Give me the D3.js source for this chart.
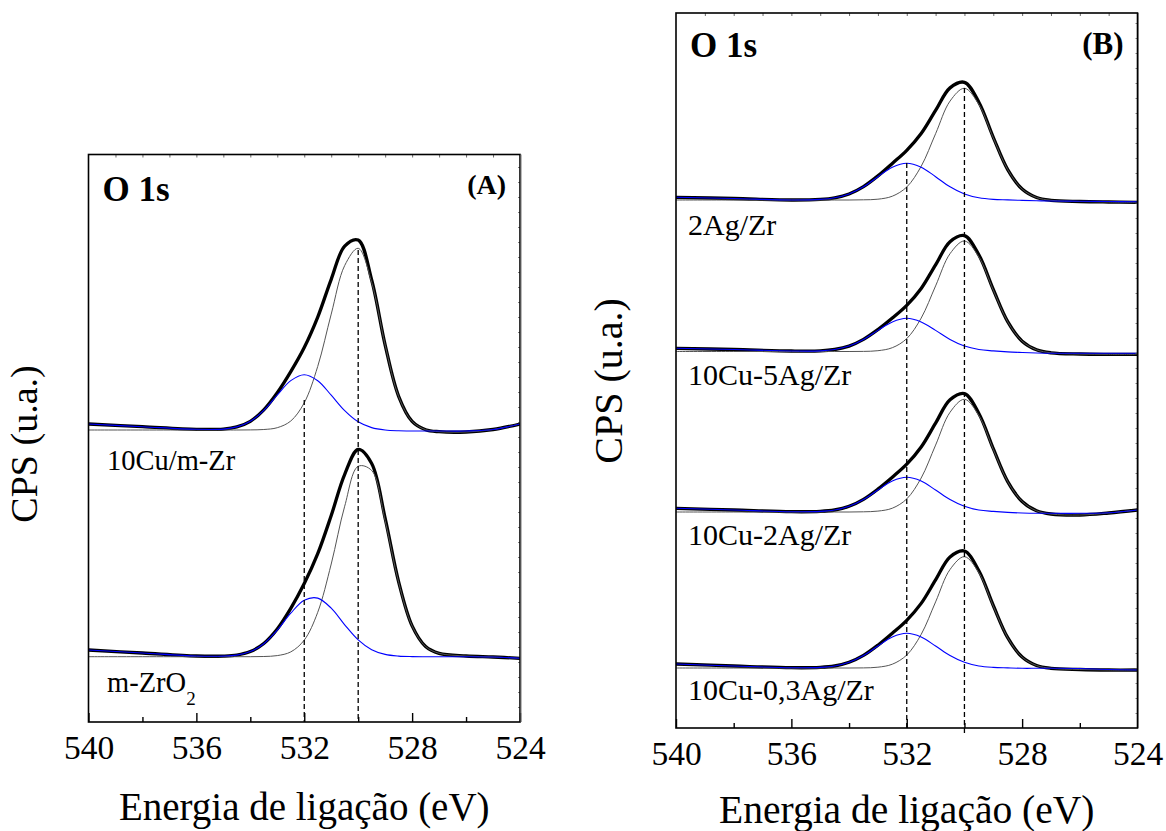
<!DOCTYPE html>
<html>
<head>
<meta charset="utf-8">
<script src="https://cdn.jsdelivr.net/npm/d3@7"></script>
<style>
  body { margin: 0; background: #fff; }
  svg { display: block; }
  text { font-family: "Liberation Serif", "Times New Roman", serif; fill: #000; }
</style>
</head>
<body>
<svg id="chart" width="1166" height="831"></svg>
<script>
// ---------- DATA (binding energy in eV, intensity in arbitrary units) ----------
const energy = [540, 538, 536, 535, 534.5, 534, 533.5, 533, 532.5, 532, 531.5, 531, 530.5, 530, 529.5, 529, 528.5, 528, 527.5, 527, 526, 525, 524];

const majorTicks = [540, 536, 532, 528, 524];
const minorTicks = [538, 534, 530, 526];
const refEnergies = [532, 530];

// Panel A : 10Cu/m-Zr (top) and m-ZrO2 (bottom)
const aSampleNames = ["10Cu/m-Zr", "m-ZrO"];
const a1Envelope = [298, 295.3, 292.7, 292.9, 295.1, 300.7, 312.2, 329.3, 350.4, 374.5, 404.9, 442.7, 475.9, 481.9, 442.0, 376.9, 325.7, 300.6, 292.3, 290.3, 290, 292.5, 298];
const a1Main     = [292, 292, 292, 292, 292, 292.1, 292.5, 294.3, 301.0, 319.2, 355.6, 407.9, 456.5, 473.7, 439.6, 376.9, 325.5, 300.6, 292.3, 290.3, 290, 292.5, 298];
const a1Blue     = [298, 295.3, 292.7, 292.9, 295.1, 300.7, 311.7, 327.0, 341.4, 347.3, 341.3, 326.8, 311.4, 300.2, 294.4, 292.0, 291.2, 291, 291, 291, 291, 292.5, 298];
const a2Envelope = [72, 69, 66, 65.9, 66.9, 70.4, 78.5, 93.0, 113.6, 138.4, 168.3, 206.5, 247.7, 272.5, 258.5, 203.7, 140.2, 96.1, 75.5, 68.7, 66, 65, 63.7];
const a2Main     = [65.3, 65.3, 65.3, 65.3, 65.3, 65.3, 65.5, 66.4, 70.1, 81.9, 109.7, 158.0, 215.8, 255.7, 251.5, 201.4, 139.6, 96.0, 75.5, 68.7, 66, 65, 63.7];
const a2Blue     = [72, 69, 66, 65.9, 66.9, 70.4, 78.3, 91.9, 108.8, 121.8, 123.9, 113.8, 97.2, 82.1, 72.3, 67.6, 65.9, 65.4, 65.3, 65.3, 65.3, 65, 63.7];
const aRefTops = [322, 472];

// Panel B : 2Ag/Zr, 10Cu-5Ag/Zr, 10Cu-2Ag/Zr, 10Cu-0,3Ag/Zr
const bSampleNames = ["2Ag/Zr", "10Cu-5Ag/Zr", "10Cu-2Ag/Zr", "10Cu-0,3Ag/Zr"];
const b1Envelope = [530.7, 529.5, 528, 528.6, 530.2, 534.0, 541.4, 552.1, 564.6, 577.7, 594.5, 617.6, 640.1, 645.7, 625.8, 590.7, 558.4, 538.9, 530.5, 527.7, 526.5, 526, 525.7];
const b1Main     = [528, 528, 528, 528, 528, 528, 528.2, 528.8, 531.8, 541.0, 561.7, 594.3, 626.9, 639.7, 623.6, 590.1, 558.3, 538.9, 530.5, 527.7, 526.5, 526, 525.7];
const b1Blue     = [530.7, 529.5, 528, 528.6, 530.2, 534.0, 541.2, 551.3, 560.8, 564.7, 560.8, 551.3, 541.2, 534.0, 530.2, 528.6, 528.1, 527.6, 527.2, 527, 526.8, 526.5, 526.2];
const b2Envelope = [379.7, 378.5, 377, 377.1, 378.5, 381.9, 388.6, 398.4, 409.9, 422.6, 439.5, 463.2, 486.3, 492.4, 473.1, 438.5, 406.3, 386.8, 378.2, 375.2, 374, 373.7, 373.7];
const b2Main     = [376.5, 376.5, 376.5, 376.5, 376.5, 376.5, 376.6, 377.3, 380.3, 389.4, 409.9, 442.1, 474.3, 487.0, 471.1, 437.9, 406.2, 386.8, 378.2, 375.2, 374, 373.7, 373.7];
const b2Blue     = [379.7, 378.5, 377, 377.1, 378.5, 381.9, 388.5, 397.6, 406.1, 409.7, 406.1, 397.6, 388.5, 381.9, 378.5, 377.1, 376.1, 375.5, 375, 374.7, 374.7, 374.7, 374.7];
const b3Envelope = [219.7, 218, 216.3, 216.6, 218.0, 221.7, 228.7, 238.9, 250.8, 263.8, 281.0, 304.9, 328.2, 334.4, 314.5, 279.3, 246.4, 226.5, 217.2, 214.0, 213, 215, 218];
const b3Main     = [216, 216, 216, 216, 216, 216, 216.2, 216.9, 219.8, 229.1, 250.0, 282.9, 315.7, 328.7, 312.5, 278.7, 246.3, 226.5, 217.2, 214.0, 213, 215, 218];
const b3Blue     = [219.7, 218, 216.3, 216.6, 218.0, 221.7, 228.5, 238.0, 247.0, 250.7, 247.0, 238.0, 228.5, 221.7, 218.0, 216.6, 215.6, 215, 214.7, 214.7, 214.7, 215.2, 218];
const b4Envelope = [64, 62, 60.3, 60.6, 62.0, 65.7, 72.6, 82.8, 94.8, 107.7, 124.6, 148.1, 171.0, 177.0, 157.3, 122.5, 90.3, 70.9, 62.5, 59.7, 58.5, 58, 58];
const b4Main     = [60, 60, 60, 60, 60, 60, 60.1, 60.8, 63.8, 73.0, 93.6, 126.1, 158.5, 171.3, 155.3, 121.9, 90.2, 70.9, 62.5, 59.7, 58.5, 58, 58];
const b4Blue     = [64, 62, 60.3, 60.6, 62.0, 65.7, 72.5, 82.0, 91.0, 94.7, 91.0, 82.0, 72.5, 65.7, 62.0, 60.6, 60.1, 59.7, 59.7, 59.7, 59.5, 58.5, 58];
const bRefTops = [565, 640];
const bRefBottoms = [0, -6];

// ---------- DRAWING ----------
const svg = d3.select("#chart");

function drawPanel(cfg) {
  const g = svg.append("g");
  const x = d3.scaleLinear().domain([540, 524]).range([cfg.left, cfg.right]);
  const y = d3.scaleLinear().domain(cfg.yDomain).range([cfg.bottom, cfg.top]);

  const clipId = "clip" + cfg.id;
  svg.append("clipPath").attr("id", clipId).append("rect")
    .attr("x", cfg.left).attr("y", cfg.top - 2)
    .attr("width", cfg.right - cfg.left).attr("height", cfg.bottom - cfg.top + 4);

  const line = d3.line()
    .x((d, i) => x(energy[i]))
    .y(d => y(d))
    .curve(d3.curveCatmullRom.alpha(0.5));

  const plot = g.append("g").attr("clip-path", `url(#${clipId})`);

  // dashed reference lines
  refEnergies.forEach((e, i) => {
    g.append("line")
      .attr("x1", x(e)).attr("x2", x(e))
      .attr("y1", y(cfg.refTops[i])).attr("y2", y(cfg.refBottoms[i]))
      .attr("stroke", "#000").attr("stroke-width", 1.3)
      .attr("stroke-dasharray", "5,3");
  });

  cfg.spectra.forEach(s => {
    plot.append("path").attr("d", line(s.env))
      .attr("fill", "none").attr("stroke", "#000").attr("stroke-width", 3.3)
      .attr("stroke-linejoin", "round");
    plot.append("path").attr("d", line(s.main))
      .attr("fill", "none").attr("stroke", "#555").attr("stroke-width", 1);
    plot.append("path").attr("d", line(s.blue))
      .attr("fill", "none").attr("stroke", "#0000ff").attr("stroke-width", 1.1);
  });

  // axes
  const bottom = g.append("g").attr("transform", `translate(0,${cfg.bottom})`)
    .call(d3.axisBottom(x).tickValues(majorTicks).tickFormat(d3.format("d"))
      .tickSizeInner(-9).tickSizeOuter(0).tickPadding(cfg.tickPad));
  bottom.select(".domain").remove();
  bottom.selectAll("line").attr("stroke", "#000").attr("stroke-width", 1.4);
  bottom.selectAll("text").attr("font-size", 33.5).attr("fill", "#000");

  const minor = g.append("g").attr("transform", `translate(0,${cfg.bottom})`)
    .call(d3.axisBottom(x).tickValues(minorTicks).tickFormat("").tickSizeInner(-5).tickSizeOuter(0));
  minor.select(".domain").remove();
  minor.selectAll("line").attr("stroke", "#000").attr("stroke-width", 1.4);

  const topAx = g.append("g").attr("transform", `translate(0,${cfg.top})`)
    .call(d3.axisTop(x).tickValues(d3.range(525, 540, 1)).tickFormat("").tickSizeInner(-3).tickSizeOuter(0));
  topAx.select(".domain").remove();
  topAx.selectAll("line").attr("stroke", "#444").attr("stroke-width", 0.8);

  const rightAx = g.append("g").attr("transform", `translate(${cfg.right},0)`)
    .call(d3.axisRight(y).tickValues(d3.range(cfg.yDomain[0] + 15, cfg.yDomain[1], 15)).tickFormat("").tickSizeInner(-2).tickSizeOuter(0));
  rightAx.select(".domain").remove();
  rightAx.selectAll("line").attr("stroke", "#666").attr("stroke-width", 0.8);

  // frame
  g.append("rect")
    .attr("x", cfg.left).attr("y", cfg.top)
    .attr("width", cfg.right - cfg.left).attr("height", cfg.bottom - cfg.top)
    .attr("fill", "none").attr("stroke", "#000").attr("stroke-width", 1.6);
  g.append("line")
    .attr("x1", cfg.right + 1).attr("x2", cfg.right + 1)
    .attr("y1", cfg.top).attr("y2", cfg.bottom)
    .attr("stroke", "#777").attr("stroke-width", 1);

  // titles
  g.append("text").attr("x", cfg.left + 14).attr("y", cfg.top + cfg.o1sDy)
    .attr("font-size", 35).attr("font-weight", "bold").text("O 1s");
  g.append("text").attr("x", cfg.right - 14).attr("y", cfg.top + cfg.tagDy)
    .attr("text-anchor", "end").attr("font-size", cfg.tagSize).attr("font-weight", "bold").text(cfg.tag);

  g.append("text")
    .attr("x", (cfg.left + cfg.right) / 2).attr("y", cfg.bottom + cfg.xTitleDy)
    .attr("text-anchor", "middle").attr("font-size", cfg.xTitleSize)
    .text("Energia de ligação (eV)");

  g.append("text")
    .attr("transform", `translate(${cfg.yTitleX},${cfg.yTitleY}) rotate(-90)`)
    .attr("text-anchor", "middle").attr("font-size", cfg.yTitleSize)
    .text("CPS (u.a.)");

  return { g, x, y };
}

// Panel A
const pA = drawPanel({
  id: "A", left: 88.5, right: 520, top: 154.5, bottom: 722,
  yDomain: [0, 567.5], tickPad: 13,
  refTops: aRefTops, refBottoms: [0, 0],
  spectra: [
    { env: a1Envelope, main: a1Main, blue: a1Blue },
    { env: a2Envelope, main: a2Main, blue: a2Blue }
  ],
  o1sDy: 46.5, tag: "(A)", tagDy: 39, tagSize: 28,
  xTitleDy: 98, xTitleSize: 39, yTitleX: 37, yTitleY: 444, yTitleSize: 38
});
pA.g.append("text").attr("x", 107).attr("y", 470).attr("font-size", 28.5).text(aSampleNames[0]);
const zrLabel = pA.g.append("text").attr("x", 107).attr("y", 691.7).attr("font-size", 28.5).text(aSampleNames[1]);
zrLabel.append("tspan").attr("font-size", 19).attr("dy", 13).text("2");

// Panel B
const pB = drawPanel({
  id: "B", left: 676, right: 1137.5, top: 13, bottom: 728,
  yDomain: [0, 715], tickPad: 13.5,
  refTops: bRefTops, refBottoms: bRefBottoms,
  spectra: [
    { env: b1Envelope, main: b1Main, blue: b1Blue },
    { env: b2Envelope, main: b2Main, blue: b2Blue },
    { env: b3Envelope, main: b3Main, blue: b3Blue },
    { env: b4Envelope, main: b4Main, blue: b4Blue }
  ],
  o1sDy: 43.7, tag: "(B)", tagDy: 40.5, tagSize: 31,
  xTitleDy: 95, xTitleSize: 39.5, yTitleX: 622, yTitleY: 381, yTitleSize: 40
});
const bLabelY = [235, 385, 545, 700];
bSampleNames.forEach((n, i) => {
  pB.g.append("text").attr("x", 688).attr("y", bLabelY[i]).attr("font-size", 30).text(n);
});
</script>
</body>
</html>
